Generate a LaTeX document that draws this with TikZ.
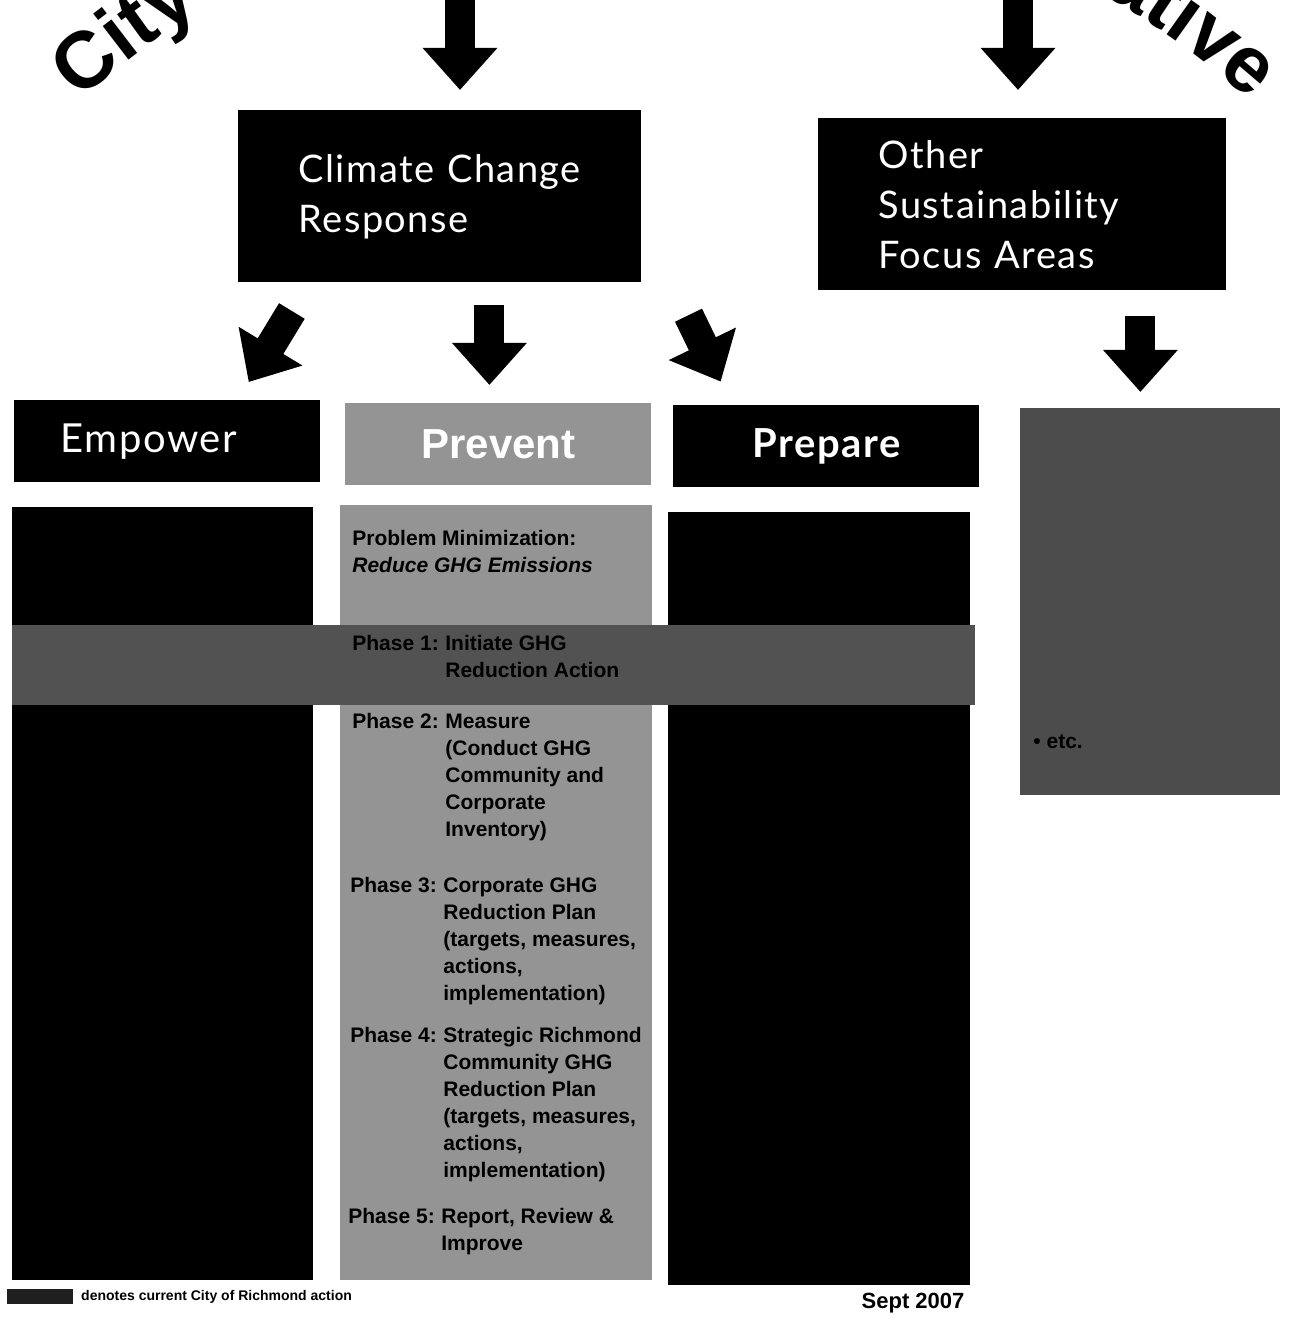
\documentclass[tikz,border=0pt]{standalone}
\usepackage{fontspec}
\setmainfont{Liberation Sans}
\newfontfamily\boxfont[LetterSpace=4.0]{Lato}
\usetikzlibrary{arrows.meta,positioning,decorations.text}

\definecolor{preventgrey}{gray}{0.58}
\definecolor{bandgrey}{gray}{0.32}
\definecolor{sidegrey}{gray}{0.30}
\definecolor{swatchgrey}{gray}{0.12}

\newcommand{\titlefont}{\fontsize{40}{40}\selectfont\bfseries}
\newcommand{\phasefont}{\fontsize{10.5}{13.5}\selectfont\bfseries}

\begin{document}
\begin{tikzpicture}[x=0.5pt, y=-0.5pt,
    darkbox/.style={fill=black, text=white, anchor=north west, inner sep=0pt},
    topbox/.style={darkbox, font=\boxfont\fontsize{19}{25}\selectfont, align=left, inner xsep=30pt, minimum height=86pt},
    headbox/.style={darkbox, minimum width=153pt, minimum height=41pt, font=\boxfont\fontsize{20}{24}\selectfont},
    bodybox/.style={anchor=north west, inner sep=0pt, fill=black},
    bigarrow/.style={line width=15pt, -{Triangle[width=36pt, length=21pt]}},
    phase/.style={anchor=base west, inner sep=0pt, font=\phasefont}
  ]
    \useasboundingbox (0,0) rectangle (1290,1320);
    \clip (0,0) rectangle (1290,1320);

    % Arched title, mostly cut off by the page edge
    \path[decorate, decoration={text along path, text={|\titlefont|City of}}]
      (665,750) ++(228:874) arc[start angle=228, end angle=280, radius=874];
    \path[decorate, decoration={text along path, text align=right, text={|\titlefont|Initiative}}]
      (665,750) ++(260:874) arc[start angle=260, end angle=312, radius=874];

    % Focus areas
    \node[topbox, text width=141.5pt] (climate) at (238,110) {Climate Change\\Response};
    \node[topbox, text width=144pt] (other) at (818,118) {Other\\Sustainability\\Focus Areas};

    % Column heads
    \node[headbox, align=left, inner xsep=23pt, text width=107pt] (emphead) at (14,400) {Empower};
    \node[headbox, fill=preventgrey, font=\bfseries\fontsize{21}{24}\selectfont] (prevhead) at (345,403) {Prevent};
    \node[headbox, font=\boxfont\bfseries\fontsize{20}{24}\selectfont] (prephead) at (673,405) {Prepare};

    % Column bodies
    \node[bodybox, minimum width=150.5pt, minimum height=386.5pt] (empbody) at (12,507) {};
    \node[bodybox, fill=preventgrey, minimum width=156pt, minimum height=387.5pt] (prevbody) at (340,505) {};
    \node[bodybox, minimum width=151pt, minimum height=386.5pt] (prepbody) at (668,512) {};
    \node[bodybox, fill=sidegrey, minimum width=130pt, minimum height=193.5pt] (sidebody) at (1020,408) {};

    % Current action band
    \fill[bandgrey] (12,625) rectangle (975,705);

    % Prevent phases
    \node[phase] (goal) at (352,545) {\begin{tabular}[t]{@{}l@{}}Problem Minimization:\\\textit{Reduce GHG Emissions}\end{tabular}};
    \node[phase] (ph1) at (352,650) {\begin{tabular}[t]{@{}p{46.5pt}@{}l@{}}Phase 1: & Initiate GHG\\ & Reduction Action\end{tabular}};
    \node[phase] (ph2) at (352,728) {\begin{tabular}[t]{@{}p{46.5pt}@{}l@{}}Phase 2: & Measure\\ & (Conduct GHG\\ & Community and\\ & Corporate\\ & Inventory)\end{tabular}};
    \node[phase] (ph3) at (350,892) {\begin{tabular}[t]{@{}p{46.5pt}@{}l@{}}Phase 3: & Corporate GHG\\ & Reduction Plan\\ & (targets, measures,\\ & actions,\\ & implementation)\end{tabular}};
    \node[phase] (ph4) at (350,1042) {\begin{tabular}[t]{@{}p{46.5pt}@{}l@{}}Phase 4: & Strategic Richmond\\ & Community GHG\\ & Reduction Plan\\ & (targets, measures,\\ & actions,\\ & implementation)\end{tabular}};
    \node[phase] (ph5) at (348,1223) {\begin{tabular}[t]{@{}p{46.5pt}@{}l@{}}Phase 5: & Report, Review \&\\ & Improve\end{tabular}};

    \node[phase] (etc) at (1033,748) {\textbullet\ etc.};

    % Arrows
    \coordinate (srcL) at (460,0);
    \coordinate (srcR) at (1018,0);
    \draw[bigarrow, shorten >=10pt] (srcL) -- (srcL |- climate.north);
    \draw[bigarrow, shorten >=14pt] (srcR) -- (srcR |- other.north);
    \draw[bigarrow, shorten <=16.5pt, shorten >=10.5pt] ([xshift=35.5pt]climate.south west) -- ([xshift=-41.5pt]emphead.north east);
    \draw[bigarrow, shorten <=11pt, shorten >=9pt] ([xshift=-4.5pt]prevhead.north |- climate.south) -- ([xshift=-4.5pt]prevhead.north);
    \draw[bigarrow, shorten <=18pt, shorten >=13pt] ([xshift=15.5pt]climate.south east) -- ([xshift=29.5pt]prephead.north west);
    \draw[bigarrow, shorten <=12.5pt, shorten >=8pt] ([xshift=-5pt]sidebody.north |- other.south) -- ([xshift=-5pt]sidebody.north);

    % Legend and date
    \node[bodybox, fill=swatchgrey, minimum width=33pt, minimum height=7.5pt] (swatch) at (7,1289) {};
    \node[right=3.5pt of swatch, inner sep=0pt, font=\bfseries\fontsize{7}{8}\selectfont] (legend) {denotes current City of Richmond action};
    \node[anchor=base, inner sep=0pt, font=\bfseries\fontsize{11}{13}\selectfont] (date) at (913,1308) {Sept 2007};
\end{tikzpicture}
\end{document}
